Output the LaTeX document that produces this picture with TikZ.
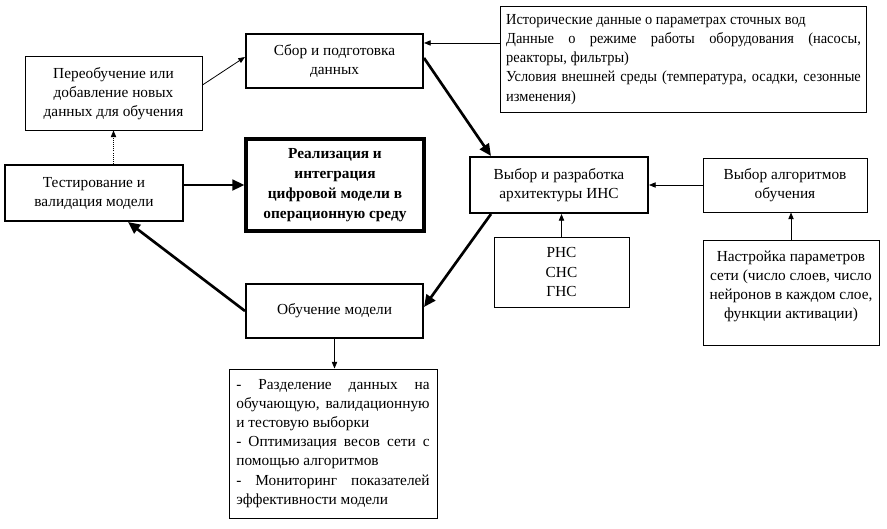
\documentclass[tikz,border=0pt]{standalone}
\usepackage{fontspec}
\setmainfont{Liberation Serif}
\usetikzlibrary{arrows.meta}
\hyphenpenalty=10000
\exhyphenpenalty=10000
\tolerance=9999

\tikzset{
  thinbox/.style={draw, line width=0.75pt, align=center, inner sep=2pt, font=\fontsize{11.5}{14.3}\selectfont},
  thickbox/.style={draw, line width=1.5pt, align=center, inner sep=2pt, font=\fontsize{11.5}{14.3}\selectfont},
  boldbox/.style={draw, line width=2.4pt, align=center, inner sep=2pt, font=\fontsize{11.5}{15}\selectfont\bfseries},
  thinarrow/.style={line width=0.6pt, -{Triangle[length=5pt,width=4pt]}},
  thickarrow/.style={line width=2pt, -{Triangle[length=9pt,width=8pt]}}
}

\begin{document}
\begin{tikzpicture}[x=0.75pt, y=-0.75pt]
			\useasboundingbox (0,0) rectangle (887,528);
			%%%%% BOXES %%%%%
			\node[thickbox, minimum width=132.75pt, minimum height=40.5pt] (sbor) at (334.5,61) {Сбор и подготовка\\данных};
			\node[thinbox, minimum width=132.75pt, minimum height=54.75pt] (pereob) at (113.5,93.5) {Переобучение или\\добавление новых\\данных для обучения};
			\node[thickbox, minimum width=133.5pt, minimum height=42pt] (test) at (94,193) {Тестирование и\\валидация модели};
			\node[boldbox, minimum width=133.5pt, minimum height=69pt] (real) at (335,185) {Реализация и\\интеграция\\цифровой модели в\\операционную среду};
			
			\node[thinbox, align=justify, text width=266pt, inner xsep=4.6pt, minimum height=78.75pt,
			  font=\fontsize{11.5}{14.3}\selectfont\addfontfeature{FakeStretch=0.94}] (dannye) at (683.5,59.5)
			  {Исторические данные о параметрах сточных вод\\Данные о режиме работы оборудования (насосы,\linebreak реакторы, фильтры)\\Условия внешней среды (температура, осадки, сезонные\linebreak изменения)};
			
			\node[thickbox, minimum width=133.5pt, minimum height=42pt] (vybor) at (559,185) {Выбор и разработка\\архитектуры ИНС};
			\node[thinbox, minimum width=123pt, minimum height=40.5pt] (algo) at (785,185) {Выбор алгоритмов\\обучения};
			\node[thinbox, minimum width=101.25pt, minimum height=52.5pt] (rns) at (561.5,272) {РНС\\СНС\\ГНС};
			\node[thinbox, minimum width=132pt, minimum height=78.75pt] (nastr) at (791,292.5) {Настройка параметров\\сети (число слоев, число\\нейронов в каждом слое,\\функции активации)\\[-3pt]\mbox{}};
			
			\node[thickbox, minimum width=132.75pt, minimum height=40.5pt] (obuch) at (334.5,311) {Обучение модели};
			\node[thinbox, align=justify, text width=145pt, inner xsep=5.5pt, minimum height=111.75pt] (spisok) at (333,443.5)
			  {- Разделение данных на\linebreak обучающую, валидационную\linebreak и тестовую выборки\\- Оптимизация весов сети с\linebreak помощью алгоритмов\\- Мониторинг показателей\linebreak эффективности модели};
			
			%%%%% ARROWS %%%%%
			\coordinate (d1) at ([yshift=12.4pt]dannye.west);
			\draw[thinarrow] (d1) -- (d1 -| sbor.east);
			\draw[thinarrow] ([yshift=6.4pt]pereob.east) -- ([yshift=3pt]sbor.west);
			\draw[thinarrow, densely dotted] (pereob.south |- test.north) -- (pereob.south);
			\draw[thickarrow] ([yshift=6pt]test.east) -- (real.west);
			\draw[thickarrow] ([yshift=2.25pt]sbor.east) -- ([xshift=16.5pt]vybor.north west);
			\draw[thickarrow] ([xshift=16.5pt]vybor.south west) -- ([yshift=3pt]obuch.east);
			\draw[thickarrow] (obuch.west) -- ([xshift=25.5pt]test.south);
			\draw[thinarrow] (algo.west) -- (vybor.east);
			\draw[thinarrow] (rns.north) -- (rns.north |- vybor.south);
			\draw[thinarrow] (nastr.north) -- (nastr.north |- algo.south);
			\draw[thinarrow] (obuch.south) -- (obuch.south |- spisok.north);
		\end{tikzpicture}
\end{document}
